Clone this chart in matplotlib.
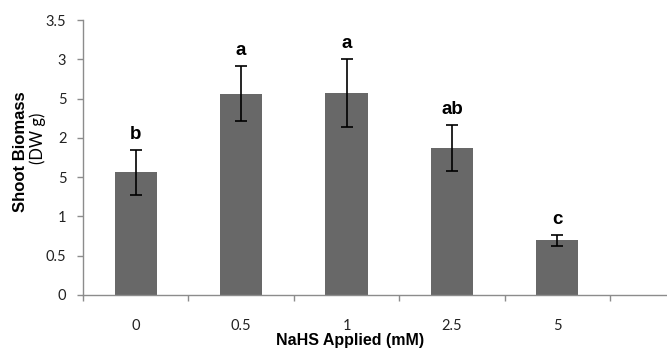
import matplotlib
matplotlib.use("Agg")
import matplotlib.pyplot as plt
import numpy as np

# data
doses = ["0", "0.5", "1", "2.5", "5"]
biomass = [1.56, 2.56, 2.57, 1.87, 0.70]
err = [0.29, 0.35, 0.43, 0.29, 0.07]
letters = ["b", "a", "a", "ab", "c"]
ytick_vals = [0, 0.5, 1, 1.5, 2, 2.5, 3, 3.5]
ytick_text = ["0", "0.5", "1", "5", "2", "5", "3", "3.5"]

tick_font = ["Lato", "DejaVu Sans"]
bold_font = ["Liberation Sans", "DejaVu Sans"]
narrow_font = ["Liberation Sans Narrow", "Liberation Sans", "DejaVu Sans"]
gray = "#8c8c8c"

fig = plt.figure(figsize=(6.67, 3.51), dpi=100)
ax = fig.add_axes([83 / 667, 1 - 295 / 351, 1 - 83 / 667, (295 - 20) / 351])

x = np.arange(len(doses))
ax.bar(x, biomass, width=0.4, color="#686868", zorder=2)
ax.errorbar(x, biomass, yerr=err, fmt="none", ecolor="black", elinewidth=1.2,
            capsize=4, capthick=1.2, zorder=3)
for xi, v, e, lab in zip(x, biomass, err, letters):
    ax.annotate(lab, (xi, v + e), xytext=(0, 5), textcoords="offset points",
                ha="center", va="bottom", fontsize=13.5, fontweight="bold",
                family=bold_font)

ax.set_xlim(-0.5, 5.04)
ax.set_ylim(0, 3.5)
ax.set_yticks(ytick_vals)
ax.set_yticklabels(ytick_text, family=tick_font, fontsize=10.5, color="#222222")
ax.set_xticks(x)
ax.set_xticklabels(doses, family=tick_font, fontsize=10.5, color="#222222")
ax.set_xticks(np.arange(-0.5, 5.0, 1.0), minor=True)
ax.tick_params(axis="x", which="major", length=0, pad=17)
ax.tick_params(axis="x", which="minor", length=4, color=gray, width=1)
ax.tick_params(axis="y", length=4, color=gray, width=1, pad=8)

for s in ["top", "right"]:
    ax.spines[s].set_visible(False)
for s in ["left", "bottom"]:
    ax.spines[s].set_color(gray)
    ax.spines[s].set_linewidth(1)

fig.text(350 / 667, 1 - 340 / 351, "NaHS Applied (mM)", ha="center", va="center",
         fontsize=11.5, fontweight="bold", family=narrow_font)
fig.text(21 / 667, 1 - 152 / 351, "Shoot Biomass", ha="center", va="center",
         rotation=90, fontsize=12, fontweight="bold", family=narrow_font)
fig.text(38 / 667, 1 - 138 / 351, "(DW g)", ha="center", va="center",
         rotation=90, fontsize=12, family=tick_font)

fig.savefig("out.png", dpi=100)
